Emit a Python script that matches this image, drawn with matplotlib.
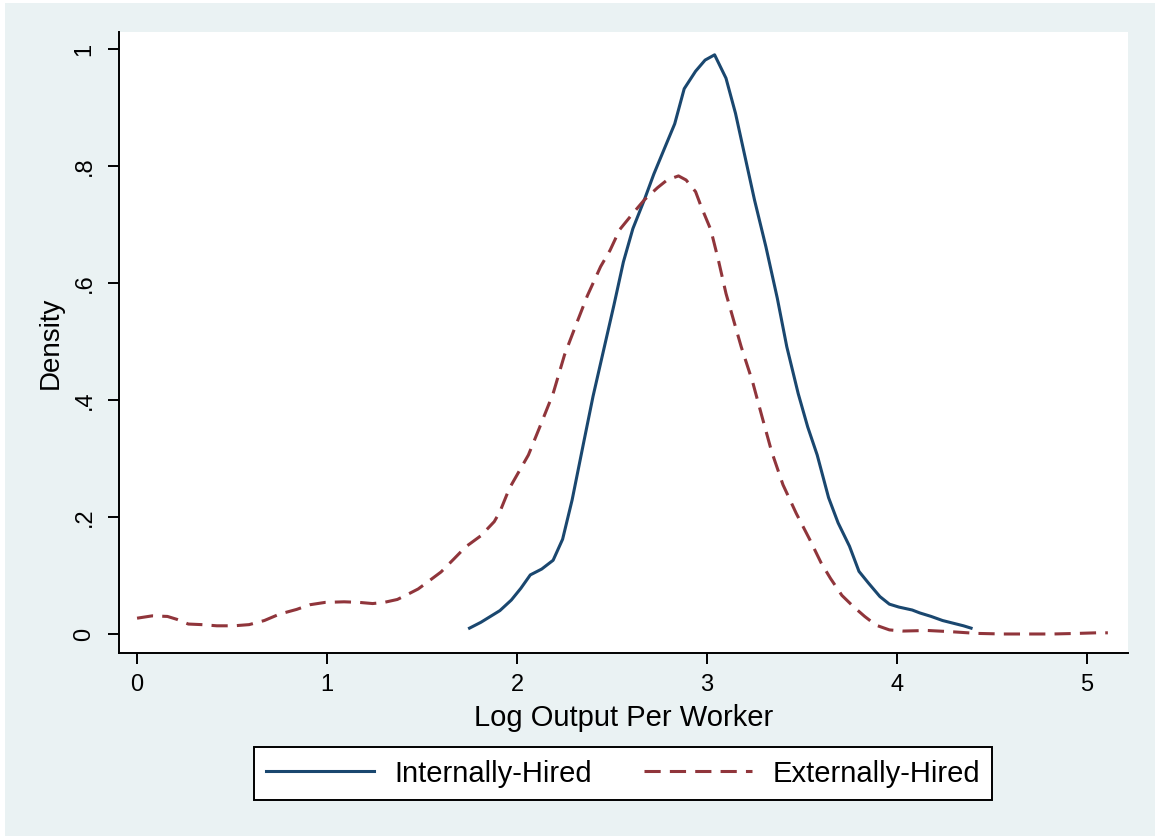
import matplotlib
matplotlib.use("Agg")
import matplotlib.pyplot as plt
from matplotlib.patches import Rectangle

# kernel density, internally hired workers
x_int = [1.75, 1.81, 1.91, 1.97, 2.02, 2.07, 2.13, 2.19, 2.24, 2.29, 2.35, 2.40,
         2.45, 2.51, 2.56, 2.61, 2.67, 2.72, 2.78, 2.83, 2.88, 2.94, 2.99, 3.04,
         3.10, 3.15, 3.20, 3.25, 3.31, 3.37, 3.42, 3.48, 3.53, 3.58, 3.64, 3.69,
         3.75, 3.80, 3.85, 3.91, 3.96, 4.01, 4.08, 4.12, 4.18, 4.24, 4.35, 4.39]
d_int = [0.010, 0.020, 0.040, 0.058, 0.078, 0.101, 0.111, 0.126, 0.162, 0.229, 0.326, 0.406,
         0.477, 0.562, 0.636, 0.693, 0.742, 0.786, 0.833, 0.872, 0.932, 0.962, 0.981, 0.990,
         0.950, 0.890, 0.816, 0.742, 0.662, 0.574, 0.491, 0.411, 0.354, 0.306, 0.233, 0.190,
         0.150, 0.107, 0.087, 0.064, 0.051, 0.046, 0.041, 0.036, 0.030, 0.023, 0.014, 0.010]

# kernel density, externally hired workers
x_ext = [0.00, 0.08, 0.16, 0.21, 0.27, 0.34, 0.42, 0.51, 0.59, 0.67, 0.75, 0.84,
         0.91, 0.99, 1.09, 1.17, 1.24, 1.30, 1.37, 1.42, 1.48, 1.53, 1.60, 1.67,
         1.73, 1.81, 1.88, 1.91, 1.96, 2.06, 2.12, 2.19, 2.25, 2.31, 2.37, 2.44,
         2.49, 2.54, 2.61, 2.67, 2.74, 2.79, 2.85, 2.89, 2.94, 2.97, 3.02, 3.06,
         3.10, 3.15, 3.18, 3.24, 3.29, 3.34, 3.40, 3.47, 3.54, 3.60, 3.65, 3.71,
         3.77, 3.83, 3.89, 3.96, 4.03, 4.16, 4.28, 4.42, 4.56, 4.70, 4.82, 4.95,
         5.05, 5.11]
d_ext = [0.027, 0.031, 0.030, 0.025, 0.017, 0.016, 0.014, 0.014, 0.016, 0.023, 0.034, 0.042,
         0.050, 0.054, 0.055, 0.054, 0.052, 0.054, 0.059, 0.067, 0.077, 0.089, 0.106, 0.129,
         0.149, 0.168, 0.192, 0.209, 0.249, 0.306, 0.354, 0.411, 0.477, 0.528, 0.578, 0.628,
         0.656, 0.691, 0.719, 0.742, 0.763, 0.776, 0.783, 0.776, 0.756, 0.730, 0.691, 0.639,
         0.582, 0.525, 0.491, 0.431, 0.371, 0.312, 0.255, 0.206, 0.162, 0.122, 0.095, 0.066,
         0.047, 0.030, 0.015, 0.007, 0.005, 0.006, 0.004, 0.001, 0.000, 0.000, 0.000, 0.001,
         0.002, 0.002]

xticks = [0, 1, 2, 3, 4, 5]
yticks = [0, 0.2, 0.4, 0.6, 0.8, 1.0]
ytick_labels = ["0", ".2", ".4", ".6", ".8", "1"]
labels = ["Internally-Hired", "Externally-Hired"]

plt.rcParams['font.family'] = ['Liberation Sans', 'DejaVu Sans']

W, H = 1155, 836
bg = '#EAF2F3'
fig = plt.figure(figsize=(W / 100, H / 100), dpi=100, facecolor='white')
# stata graph region
fig.patches.append(Rectangle((5 / W, 0), 1 - 5 / W, 1 - 3 / H, transform=fig.transFigure,
                             facecolor=bg, edgecolor='none', zorder=-10))

ax = fig.add_axes([119 / W, 1 - 653 / H, (1128 - 119) / W, (653 - 32) / H])
ax.set_facecolor('white')

ax.plot(x_int, d_int, color='#1A476F', lw=2.2, label=labels[0])
ax.plot(x_ext, d_ext, color='#90353B', lw=2.2, dashes=(5.3, 3.0), label=labels[1])

ax.set_xlim(-0.095, 5.216)
ax.set_ylim(-0.0325, 1.029)
ax.set_xticks(xticks)
ax.set_yticks(yticks)
ax.set_yticklabels(ytick_labels, rotation=90, va='center')

for s in ['top', 'right']:
    ax.spines[s].set_visible(False)
for s in ['left', 'bottom']:
    ax.spines[s].set_linewidth(1.4)
ax.tick_params(length=8, width=1.4, labelsize=17, direction='out')
ax.tick_params(axis='x', pad=7)
ax.tick_params(axis='y', pad=9)

ax.set_xlabel('Log Output Per Worker', fontsize=21, labelpad=6)
ax.set_ylabel('Density', fontsize=20, labelpad=7)

leg = fig.legend(loc='center', bbox_to_anchor=(623 / W, 1 - 773.5 / H), ncol=2,
                 fontsize=21, handlelength=3.7, handletextpad=0.7, columnspacing=1.8,
                 borderpad=0.42, fancybox=False, frameon=True)
leg.get_frame().set_edgecolor('black')
leg.get_frame().set_linewidth(1.4)
leg.get_frame().set_facecolor('white')
leg.get_frame().set_alpha(1)

fig.savefig('out.png', dpi=100, facecolor=fig.get_facecolor())
